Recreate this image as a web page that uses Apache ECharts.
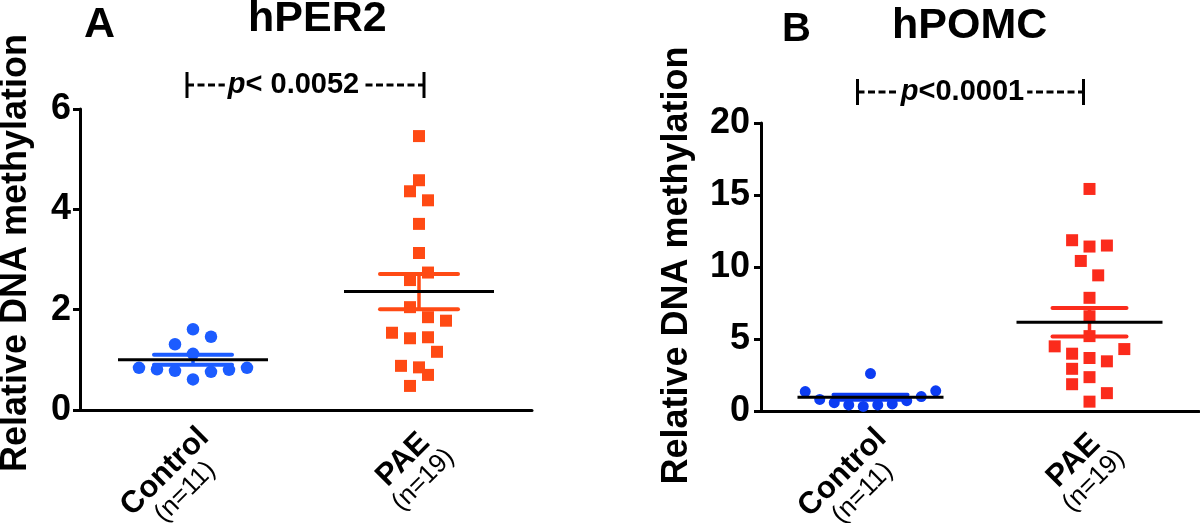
<!DOCTYPE html>
<html><head><meta charset="utf-8">
<script src="https://cdn.jsdelivr.net/npm/echarts@6/dist/echarts.min.js"></script>
<style>html,body{margin:0;padding:0;background:#fff}#c{width:1200px;height:523px}</style>
</head><body><div id="c"></div>
<script>
// ---------- data ----------
const categories = ['Control', 'PAE'];
const groupSizes = ['(n=11)', '(n=19)'];
const panelLetters = ['A', 'B'];
const geneNames = ['hPER2', 'hPOMC'];
const pTexts = ['< 0.0052', '<0.0001'];

// Panel A: hPER2
const per2Control     = [1.61, 1.46, 1.31, 1.12, 0.84, 0.81, 0.78, 0.76, 0.80, 0.84, 0.61];
const per2ControlSlot = [0, 1, -1, 0, -3, -2, -1, 1, 2, 3, 0];
const per2PAE     = [5.46, 4.58, 4.36, 4.18, 3.71, 3.13, 2.74, 2.59, 2.05, 1.85, 1.78, 1.54, 1.43, 1.45, 1.16, 0.88, 0.85, 0.70, 0.48];
const per2PAESlot = [0, 0, -1, 1, 0, 0, 1, -1, -1, 1, 3, -3, -1, 1, 2, -2, 0, 1, -1];
const per2Mean = [1.00, 2.36];
const per2SEM  = [0.10, 0.35];

// Panel B: hPOMC
const pomcControl     = [2.60, 1.35, 0.80, 0.58, 0.42, 0.32, 0.42, 0.49, 0.72, 1.00, 1.40];
const pomcControlSlot = [0, -4.5, -3.5, -2.5, -1.5, -0.5, 0.5, 1.5, 2.5, 3.5, 4.5];
const pomcPAE     = [15.42, 11.86, 11.42, 11.49, 10.42, 9.42, 7.86, 6.58, 5.20, 4.49, 3.98, 3.68, 4.30, 3.45, 2.93, 2.35, 1.86, 1.24, 0.65];
const pomcPAESlot = [0, -2, 0, 2, -1, 1, 0, 0, 0, -4, -2, 0, 4, 2, -2, 0, -2, 2, 0];
const pomcMean = [0.95, 6.16];
const pomcSEM  = [0.17, 0.99];

// ---------- styling ----------
const FONT = '"Liberation Sans", Arial, Helvetica, sans-serif';
const grids = [
  {left: 80, top: 109, width: 452, height: 301, outerBoundsMode: 'none', containLabel: false},
  {left: 761, top: 123, width: 438, height: 288, outerBoundsMode: 'none', containLabel: false}
];
const yMax = [6, 20], yInterval = [2, 5];
const panelColors = [
  {ctrl: '#1c5cff', pae: '#ff4a14'},
  {ctrl: '#0c3cf2', pae: '#fb2b1c'}
];
const jitterStep = [{ctrl: 18, pae: 9}, {ctrl: 14.5, pae: 8.7}];
const meanHalf = [75, 73], semHalf = [39, 37];

function ptsCat(cat, vals, slots, step) {
  return vals.map((v, i) => ({value: [cat, v], symbolOffset: [slots[i] * step, 0]}));
}

const xAxes = [0, 1].map(g => ({
  type: 'category', gridIndex: g, data: categories, boundaryGap: true,
  axisLine: {lineStyle: {color: '#000', width: 3}},
  axisTick: {alignWithLabel: true, length: 11, lineStyle: {color: '#000', width: 3}},
  axisLabel: {
    interval: 0, rotate: 45, margin: 12, verticalAlign: 'top', color: '#000', fontFamily: FONT,
    formatter: (v, idx) => '{a|' + v + '}\n{b|' + groupSizes[idx] + '}',
    rich: {
      a: {fontSize: 31, fontWeight: 'bold', fontFamily: FONT, color: '#000', align: 'center', lineHeight: 31},
      b: {fontSize: 26, fontWeight: 'normal', fontFamily: FONT, color: '#000', align: 'center', lineHeight: 26}
    }
  },
  splitLine: {show: false}
}));

const yAxes = [0, 1].map(g => ({
  type: 'value', gridIndex: g, min: 0, max: yMax[g], interval: yInterval[g],
  name: 'Relative DNA methylation', nameLocation: 'middle', nameRotate: 90,
  nameGap: g === 0 ? 46 : 66,
  nameTextStyle: {fontSize: 36, fontWeight: 'bold', color: '#000', fontFamily: FONT,
                  padding: g === 0 ? [0, 0, 0, 13] : [0, 0, 0, 3]},
  axisLine: {show: true, lineStyle: {color: '#000', width: 3}},
  axisTick: {show: true, length: 7, lineStyle: {color: '#000', width: 3}},
  axisLabel: {margin: g === 0 ? 9 : 11, fontSize: 36, fontWeight: 'bold', color: '#000', fontFamily: FONT},
  splitLine: {show: false}
}));

function errSeries(g, means, sems) {
  const cols = [panelColors[g].ctrl, panelColors[g].pae];
  return {
    type: 'custom', xAxisIndex: g, yAxisIndex: g, z: 5, silent: true,
    data: means.map((m, i) => [i, m, sems[i]]),
    renderItem(params, api) {
      const i = api.value(0), m = api.value(1), s = api.value(2);
      const c = api.coord([i, m]);
      const hi = api.coord([i, m + s]);
      const lo = api.coord([i, m - s]);
      const col = cols[params.dataIndex];
      return {type: 'group', children: [
        {type: 'line', shape: {x1: c[0], y1: hi[1], x2: c[0], y2: lo[1]}, style: {stroke: col, lineWidth: 3.5}},
        {type: 'line', shape: {x1: c[0] - semHalf[g], y1: hi[1], x2: c[0] + semHalf[g], y2: hi[1]}, style: {stroke: col, lineWidth: 4, lineCap: 'round'}},
        {type: 'line', shape: {x1: c[0] - semHalf[g], y1: lo[1], x2: c[0] + semHalf[g], y2: lo[1]}, style: {stroke: col, lineWidth: 4, lineCap: 'round'}},
        {type: 'line', shape: {x1: c[0] - meanHalf[g], y1: c[1], x2: c[0] + meanHalf[g], y2: c[1]}, style: {stroke: '#000', lineWidth: 3}}
      ]};
    }
  };
}

const series = [
  {type: 'scatter', xAxisIndex: 0, yAxisIndex: 0, symbol: 'circle', symbolSize: 12.5,
   itemStyle: {color: panelColors[0].ctrl, opacity: 1}, data: ptsCat(0, per2Control, per2ControlSlot, jitterStep[0].ctrl)},
  {type: 'scatter', xAxisIndex: 0, yAxisIndex: 0, symbol: 'rect', symbolSize: 12,
   itemStyle: {color: panelColors[0].pae, opacity: 1}, data: ptsCat(1, per2PAE, per2PAESlot, jitterStep[0].pae)},
  errSeries(0, per2Mean, per2SEM),
  {type: 'scatter', xAxisIndex: 1, yAxisIndex: 1, symbol: 'circle', symbolSize: 11,
   itemStyle: {color: panelColors[1].ctrl, opacity: 1}, data: ptsCat(0, pomcControl, pomcControlSlot, jitterStep[1].ctrl)},
  {type: 'scatter', xAxisIndex: 1, yAxisIndex: 1, symbol: 'rect', symbolSize: 12,
   itemStyle: {color: panelColors[1].pae, opacity: 1}, data: ptsCat(1, pomcPAE, pomcPAESlot, jitterStep[1].pae)},
  errSeries(1, pomcMean, pomcSEM)
];

const titleStyle = (fs) => ({fontSize: fs, fontWeight: 'bold', color: '#000', fontFamily: FONT});
const option = {
  animation: false,
  backgroundColor: '#fff',
  grid: grids,
  xAxis: xAxes,
  yAxis: yAxes,
  title: [
    {text: panelLetters[0], left: 84, top: 4, textStyle: titleStyle(43), padding: 0},
    {text: geneNames[0], left: 248, top: -2, textStyle: titleStyle(43), padding: 0},
    {text: panelLetters[1], left: 782, top: 10, textStyle: titleStyle(40), padding: 0},
    {text: geneNames[1], left: 892, top: 5, textStyle: titleStyle(43), padding: 0}
  ],
  series: series
};

const chart = echarts.init(document.getElementById('c'), null, {renderer: 'canvas'});
chart.setOption(option);

// p-value brackets
const bracketY = [85, 92];
const bracketPad = [[-6, 5], [-13, -6]];
const textShift = [-12, -8];
const graphics = [];
[0, 1].forEach(g => {
  const x0 = chart.convertToPixel({xAxisIndex: g}, 0) + bracketPad[g][0];
  const x1 = chart.convertToPixel({xAxisIndex: g}, 1) + bracketPad[g][1];
  const y = bracketY[g];
  graphics.push({type: 'line', shape: {x1: x0, y1: y - 13, x2: x0, y2: y + 13}, style: {stroke: '#000', lineWidth: 3}});
  graphics.push({type: 'line', shape: {x1: x1, y1: y - 13, x2: x1, y2: y + 13}, style: {stroke: '#000', lineWidth: 3}});
  graphics.push({type: 'line', shape: {x1: x0, y1: y, x2: x1, y2: y}, style: {stroke: '#000', lineWidth: 3, lineDash: [7, 3.5]}});
  graphics.push({
    type: 'text', x: (x0 + x1) / 2 + textShift[g], y: y, z: 10,
    style: {
      text: '{p|p}{t|' + pTexts[g] + '}',
      align: 'center', verticalAlign: 'middle',
      backgroundColor: '#fff', padding: [0, 3],
      rich: {
        p: {fontSize: 29, fontWeight: 'bold', fontStyle: 'italic', fontFamily: FONT, fill: '#000'},
        t: {fontSize: 29, fontWeight: 'bold', fontFamily: FONT, fill: '#000'}
      }
    }
  });
});
chart.setOption({graphic: graphics});
</script>
</body></html>
